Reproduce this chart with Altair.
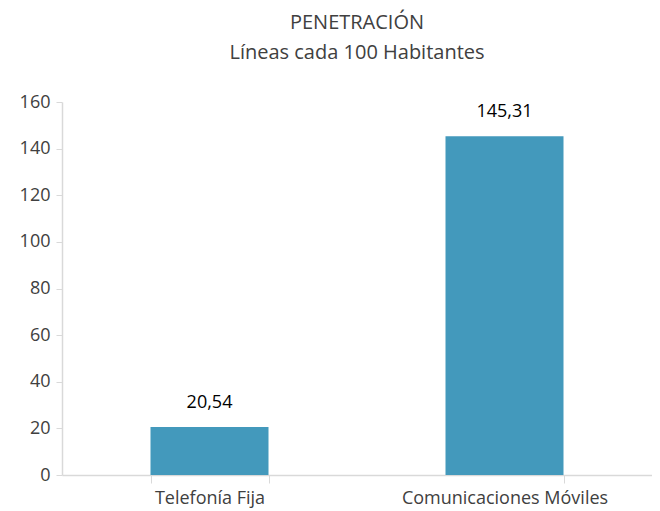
import altair as alt
import pandas as pd

categories = ["Telefonía Fija", "Comunicaciones Móviles"]
values = [20.54, 145.31]
labels = ["20,54", "145,31"]

df = pd.DataFrame({"cat": categories, "val": values, "lab": labels})

FONT = "Open Sans"

x = alt.X("cat:N", sort=categories, title=None,
          scale=alt.Scale(paddingInner=0.6, paddingOuter=0.3),
          axis=alt.Axis(labelAngle=0, labelFontSize=18, labelColor="#404040", labelFont=FONT,
                        labelLimit=0, domainColor="#d9d9d9", tickColor="#d9d9d9",
                        tickBand="extent", tickSize=8, labelPadding=6, domainWidth=1.5))
y = alt.Y("val:Q", title=None,
          scale=alt.Scale(domain=[0, 160], nice=False),
          axis=alt.Axis(values=list(range(0, 161, 20)), grid=False, labelFontSize=18,
                        labelColor="#404040", labelFont=FONT, domainColor="#d9d9d9",
                        tickColor="#d9d9d9", tickSize=6, labelPadding=6, domainWidth=1.5))

bars = alt.Chart(df).mark_bar(color="#4399BC").encode(x=x, y=y)
text = alt.Chart(df).mark_text(dy=-24, fontSize=18, font=FONT, color="#000000").encode(
    x=alt.X("cat:N", sort=categories), y="val:Q", text="lab:N")

chart = alt.layer(bars, text).properties(
    width=590, height=373,
    title=alt.TitleParams(["PENETRACIÓN", "Líneas cada 100 Habitantes"], fontSize=20,
                          font=FONT, fontWeight="normal", color="#404040", anchor="middle",
                          lineHeight=30, offset=30),
    autosize=alt.AutoSizeParams(type="none"),
    padding={"left": 54, "top": 94, "right": 0, "bottom": 34},
).configure_view(stroke=None)

chart.save("out.html", embed_options={"renderer": "svg", "actions": False})
